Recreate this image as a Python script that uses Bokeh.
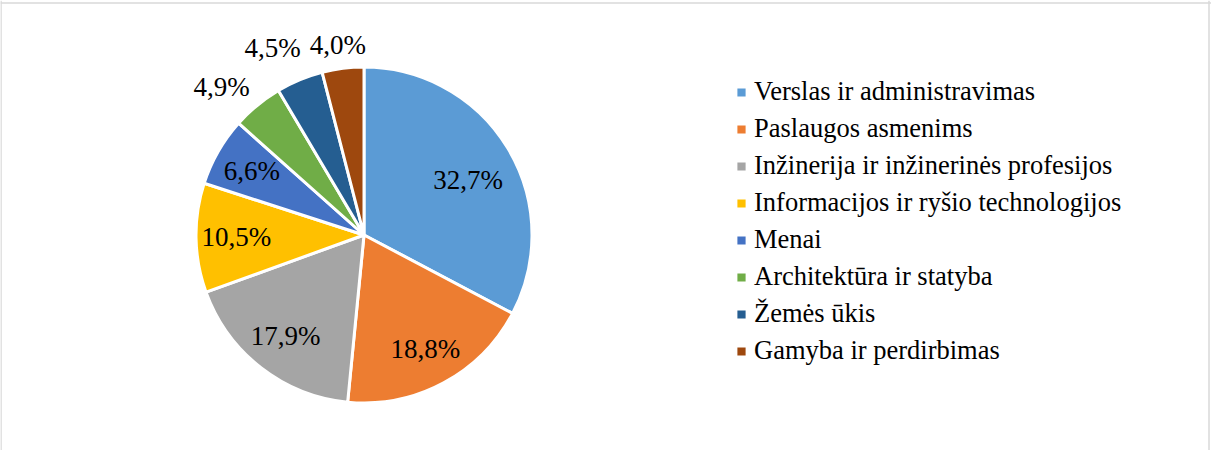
import math
from bokeh.plotting import figure
from bokeh.models import ColumnDataSource, Legend, LegendItem, Range1d, Span, CDSView, IndexFilter
from bokeh.core.properties import value
from bokeh.embed import file_html
from bokeh.resources import INLINE

categories = [
    "Verslas ir administravimas",
    "Paslaugos asmenims",
    "Inžinerija ir inžinerinės profesijos",
    "Informacijos ir ryšio technologijos",
    "Menai",
    "Architektūra ir statyba",
    "Žemės ūkis",
    "Gamyba ir perdirbimas",
]
shares = [32.7, 18.8, 17.9, 10.5, 6.6, 4.9, 4.5, 4.0]
share_labels = ["32,7%", "18,8%", "17,9%", "10,5%", "6,6%", "4,9%", "4,5%", "4,0%"]
colors = ["#5B9BD5", "#ED7D31", "#A5A5A5", "#FFC000", "#4472C4", "#70AD47", "#255E91", "#9E480E"]

# layout (pixels; data units == screen pixels, y measured up from frame bottom)
W, H = 1211, 450
CX, CY = 363.5, 215.5
R = 168
label_rf = [0.70, 0.77, 0.76, 0.76, 0.77, 1.22, 1.24, 1.14]
label_da = [3.4, 0.0, 0.0, 0.0, 0.0, -4.5, -3.5, -0.6]  # degrees offset (clockwise)
FONT = "Liberation Serif"
FSIZE = "27px"
LSIZE = "26.5px"

total = sum(shares)
starts, ends, lx, ly = [], [], [], []
cum = 0.0
for i, s in enumerate(shares):
    a0 = math.pi / 2 - 2 * math.pi * cum / total
    cum += s
    a1 = math.pi / 2 - 2 * math.pi * cum / total
    starts.append(a0)
    ends.append(a1)
    mid = (a0 + a1) / 2 - math.radians(label_da[i])
    lx.append(CX + R * label_rf[i] * math.cos(mid))
    ly.append(CY + R * label_rf[i] * math.sin(mid))

src = ColumnDataSource(dict(cat=categories, share=shares, start=starts, end=ends,
                            color=colors, x=[CX] * len(shares), y=[CY] * len(shares)))
lsrc = ColumnDataSource(dict(x=lx, y=ly, text=share_labels))

p = figure(width=W, height=H, output_backend="svg", toolbar_location=None,
           x_range=Range1d(0, W), y_range=Range1d(0, H),
           min_border=0, min_border_top=0, min_border_left=0, min_border_right=0,
           min_border_bottom=0)
p.xaxis.visible = False
p.yaxis.visible = False
p.grid.visible = False
p.outline_line_color = None
p.background_fill_color = "white"
p.border_fill_color = "white"

# chart-area border (open at the bottom, as in the reference crop)
for loc, dim in [(0.5, "height"), (1208.5, "height"), (H - 2.5, "width")]:
    p.add_layout(Span(location=loc, dimension=dim, line_color="#D9D9D9", line_width=1.5))

items = []
for i in range(len(shares)):
    r = p.wedge(x="x", y="y", radius=R, start_angle="start", end_angle="end",
                direction="clock", fill_color="color", line_color="white", line_width=3,
                source=src, view=CDSView(filter=IndexFilter([i])))
    items.append(LegendItem(label=categories[i], renderers=[r]))

p.text(x="x", y="y", text="text", source=lsrc, text_font=value(FONT),
       text_font_size=FSIZE, text_align="center", text_baseline="middle",
       text_color="black")

legend = Legend(items=items, location=(734, 84), orientation="vertical",
                glyph_width=14, glyph_height=14, label_standoff=6,
                label_text_font=FONT, label_text_font_size=LSIZE,
                label_text_color="black", label_height=30, spacing=6,
                padding=0, margin=0, border_line_color=None,
                background_fill_alpha=0)
p.add_layout(legend, "center")

open("out.html", "w").write(file_html(p, INLINE))
